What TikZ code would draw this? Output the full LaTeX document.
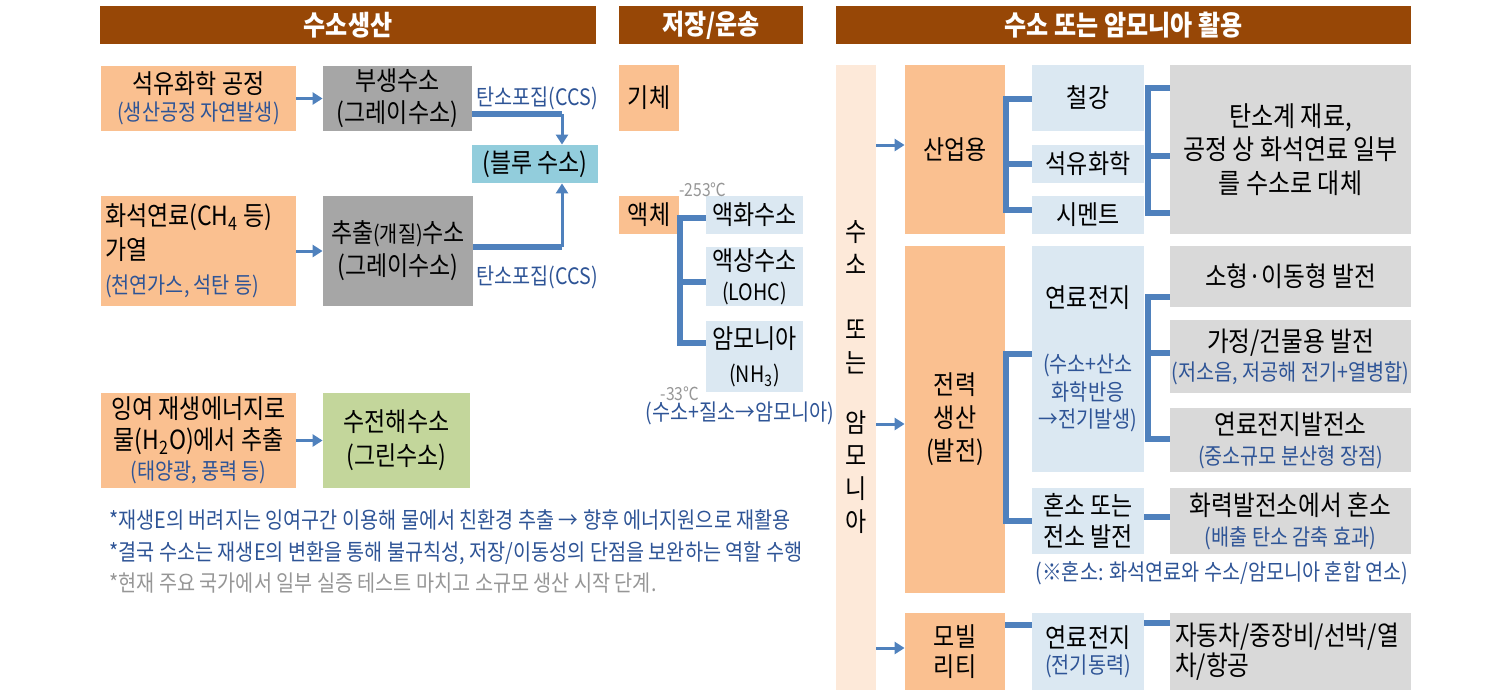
\documentclass[tikz,border=0pt]{standalone}
\usepackage{fontspec}
\setmainfont{Noto Sans CJK KR}[FakeStretch=0.87]
\usetikzlibrary{arrows.meta,positioning,calc}
\definecolor{hbrown}{RGB}{151,71,6}
\definecolor{forange}{RGB}{250,192,144}
\definecolor{fgray}{RGB}{166,166,166}
\definecolor{faqua}{RGB}{146,205,220}
\definecolor{fgreen}{RGB}{195,214,155}
\definecolor{flight}{RGB}{219,232,242}
\definecolor{fpale}{RGB}{253,233,217}
\definecolor{flgray}{RGB}{217,217,217}
\definecolor{lblue}{RGB}{79,129,189}
\definecolor{tblue}{RGB}{46,84,150}
\definecolor{tgray}{RGB}{150,150,150}
\newcommand{\fmain}{\fontsize{13.2}{16}\selectfont}
\newcommand{\fsub}{\fontsize{11.3}{13.5}\selectfont}
\newcommand{\subt}[1]{{\fsub\color{tblue}#1}}
\tikzset{
  sbox/.style={inner sep=0pt, align=center, font=\fmain, text=black},
  shead/.style={sbox, fill=hbrown, text=white, minimum height=19pt,
                font=\fontsize{13.8}{15}\selectfont\bfseries},
  sorange/.style={sbox, fill=forange},
  sgray/.style={sbox, fill=fgray},
  saqua/.style={sbox, fill=faqua},
  sgreen/.style={sbox, fill=fgreen},
  slight/.style={sbox, fill=flight},
  spale/.style={sbox, fill=fpale},
  slgray/.style={sbox, fill=flgray, font=\fontsize{13.6}{16}\selectfont},
  stxt/.style={inner sep=0pt, font=\fsub, text=tblue},
  stemp/.style={inner sep=0pt, font=\fontsize{9}{10}\selectfont, text=tgray},
  sarr/.style={lblue, line width=1.5pt, -{Triangle[length=5pt,width=6pt]}},
  sbar/.style={lblue, line width=2.8pt},
}

\begin{document}
\begin{tikzpicture}[x=0.5pt, y=-0.5pt]
\useasboundingbox (0,0) rectangle (1510,693);

% headers
\node[shead, minimum width=248pt] (hprod) at (348,25) {수소생산};
\node[shead, minimum width=92pt] (hstore) at (711,25) {저장/운송};
\node[shead, minimum width=287.5pt] (huse) at (1123.5,25) {수소 또는 암모니아 활용};

% production
\node[sorange, minimum width=97.5pt, minimum height=32.5pt] (petro) at (198.5,98.5)
  {석유화학 공정\\[-2.5pt]\subt{(생산공정 자연발생)}};
\node[sgray, minimum width=74.5pt, minimum height=32.5pt] (byprod) at (397.5,98.5)
  {부생수소\\(그레이수소)};
\node[saqua, minimum width=63pt, minimum height=19pt] (blue) at (535,164) {(블루 수소)};
\node[sorange, minimum width=97.5pt, minimum height=55pt, text width=93.5pt,
      align=flush left, inner xsep=2pt] (fossil) at (198.5,251)
  {화석연료(CH\textsubscript{4} 등)\\[1pt]가열\\[1pt]\subt{(천연가스, 석탄 등)}};
\node[sgray, minimum width=75pt, minimum height=55pt] (reform) at (398,251)
  {추출{\fsub(개질)}수소\\[0.5pt](그레이수소)};
\node[sorange, minimum width=97.5pt, minimum height=47.5pt] (renew) at (198.5,440.5)
  {잉여 재생에너지로\\[-0.5pt]물(H\textsubscript{2}O)에서 추출\\[-1pt]\subt{(태양광, 풍력 등)}};
\node[sgreen, minimum width=73.5pt, minimum height=47.5pt] (green) at (396.5,440.5)
  {수전해수소\\[1pt](그린수소)};

\draw[sarr] (petro.east) -- (byprod.west);
\draw[sarr] (fossil.east) -- (reform.west);
\draw[sarr] (renew.east) -- (green.west);

% carbon capture
\coordinate (ccsA) at (562,114);
\coordinate (ccsB) at (562,247);
\draw[sbar] (byprod.east |- ccsA) -- (ccsA);
\draw[sarr] (ccsA) -- (ccsA |- blue.north);
\draw[sbar] (reform.east |- ccsB) -- (ccsB);
\draw[sarr] (ccsB) -- (ccsB |- blue.south);
\node[stxt] (ccsAt) at (537,98) {탄소포집(CCS)};
\node[stxt] (ccsBt) at (537,277) {탄소포집(CCS)};

\node[stxt, anchor=west] (note1) at (109,520)
  {*재생E의 버려지는 잉여구간 이용해 물에서 친환경 추출 → 향후 에너지원으로 재활용};
\node[stxt, anchor=west] (note2) at (109,553)
  {*결국 수소는 재생E의 변환을 통해 불규칙성, 저장/이동성의 단점을 보완하는 역할 수행};
\node[stxt, anchor=west, text=tgray] (note3) at (109,583)
  {*현재 주요 국가에서 일부 실증 테스트 마치고 소규모 생산 시작 단계.};

% storage
\node[sorange, minimum width=30pt, minimum height=33pt] (gas) at (649,98) {기체};
\node[sorange, minimum width=30pt, minimum height=19pt] (liquid) at (649,215) {액체};
\node[slight, minimum width=48.5pt, minimum height=19pt] (lh2) at (754.5,215) {액화수소};
\node[slight, minimum width=48.5pt, minimum height=29.5pt] (lohc) at (754.5,276.5)
  {액상수소\\[-1pt]{\fsub(LOHC)}};
\node[slight, minimum width=48.5pt, minimum height=35.5pt] (nh3) at (754.5,356.5)
  {암모니아\\[1pt]{\fsub(NH\textsubscript{3})}};
\node[stemp] (t253) at (703,190) {-253℃};
\node[stemp] (t33) at (680,394) {-33℃};
\node[stxt] (nh3note) at (740,413) {(수소+질소→암모니아)};

\coordinate (lq1) at (680,218);
\coordinate (lq3) at (680,343);
\draw[sbar] (lh2.west |- lq1) -- (lq1) -- (lq3) -- (nh3.west |- lq3);
\draw[sbar] (lq1 |- 0,282) -- (lohc.west |- 0,282);

% use
\node[spale, minimum width=20pt, minimum height=312.5pt,
      font=\fontsize{13.2}{16.5}\selectfont] (strip) at (856,377.5)
  {수\\소\\[16pt]또\\는\\[13.5pt]암\\모\\니\\아};
\node[sorange, minimum width=50pt, minimum height=84.5pt] (ind) at (955,149.5) {산업용};
\node[slight, minimum width=56pt, minimum height=33pt] (steel) at (1088,98) {철강};
\node[slight, minimum width=56pt, minimum height=19pt] (petchem) at (1088,164) {석유화학};
\node[slight, minimum width=56pt, minimum height=19pt] (cement) at (1088,215) {시멘트};
\node[slgray, minimum width=120.5pt, minimum height=84.5pt,
      font=\fontsize{13.8}{16.75}\selectfont] (carbon) at (1290.5,149.5)
  {탄소계 재료,\\공정 상 화석연료 일부\\를 수소로 대체};

\node[sorange, minimum width=50pt, minimum height=173.5pt] (power) at (955,419.5)
  {전력\\[0.5pt]생산\\[0.5pt](발전)};
\node[slight, minimum width=56pt, minimum height=113pt] (fc) at (1088,359)
  {연료전지\\[16.5pt]\subt{(수소+산소}\\[-2.2pt]\subt{화학반응}\\[-2.2pt]\subt{→전기발생)}};
\node[slight, minimum width=56pt, minimum height=33pt] (cofire) at (1088,521)
  {혼소 또는\\[-0.5pt]전소 발전};
\node[slgray, minimum width=120.5pt, minimum height=30.5pt] (small) at (1290.5,276.5)
  {소형·이동형 발전};
\node[slgray, minimum width=120.5pt, minimum height=36.5pt] (home) at (1290.5,356.5)
  {가정/건물용 발전\\[-1.5pt]\subt{(저소음, 저공해 전기+열병합)}};
\node[slgray, minimum width=120.5pt, minimum height=32pt] (fcplant) at (1290.5,440)
  {연료전지발전소\\[-1pt]\subt{(중소규모 분산형 장점)}};
\node[slgray, minimum width=120.5pt, minimum height=33pt] (thermal) at (1290.5,521)
  {화력발전소에서 혼소\\[-1pt]\subt{(배출 탄소 감축 효과)}};
\node[stxt] (cofnote) at (1222,573) {(※혼소: 화석연료와 수소/암모니아 혼합 연소)};

\node[sorange, minimum width=50pt, minimum height=38.5pt] (mob) at (955,651.5)
  {모빌\\[-1pt]리티};
\node[slight, minimum width=56pt, minimum height=38.5pt] (fcmob) at (1088,651.5)
  {연료전지\\[-3pt]\subt{(전기동력)}};
\node[slgray, minimum width=120.5pt, minimum height=38.5pt, text width=115.5pt,
      align=flush left, inner xsep=2.5pt] (veh) at (1290.5,651.5)
  {자동차/중장비/선박/열\\[-1pt]차/항공};

\draw[sarr] (strip.east |- 0,145) -- (ind.west |- 0,145);
\draw[sarr] (strip.east |- 0,424) -- (power.west |- 0,424);
\draw[sarr] (strip.east |- 0,648) -- (mob.west |- 0,648);

\coordinate (in1) at (1006,99);
\coordinate (in3) at (1006,210);
\draw[sbar] (steel.west |- in1) -- (in1) -- (in3) -- (cement.west |- in3);
\draw[sbar] (in1 |- petchem.west) -- (petchem.west);
\coordinate (cb1) at (1148,88);
\coordinate (cb3) at (1148,213);
\draw[sbar] (carbon.west |- cb1) -- (cb1) -- (cb3) -- (carbon.west |- cb3);
\draw[sbar] (cb1 |- 0,156) -- (carbon.west |- 0,156);

\coordinate (pw1) at (1006,354);
\coordinate (pw2) at (1006,521);
\draw[sbar] (fc.west |- pw1) -- (pw1) -- (pw2) -- (cofire.west |- pw2);
\coordinate (fb1) at (1148,297);
\coordinate (fb3) at (1148,439);
\draw[sbar] (small.west |- fb1) -- (fb1) -- (fb3) -- (fcplant.west |- fb3);
\draw[sbar] (fb1 |- 0,353) -- (home.west |- 0,353);
\draw[sbar] (cofire.east |- 0,517) -- (thermal.west |- 0,517);

\draw[sbar] (mob.east |- 0,625) -- (fcmob.west |- 0,625);
\draw[sbar] (fcmob.east |- 0,623) -- (veh.west |- 0,623);
\end{tikzpicture}
\end{document}
